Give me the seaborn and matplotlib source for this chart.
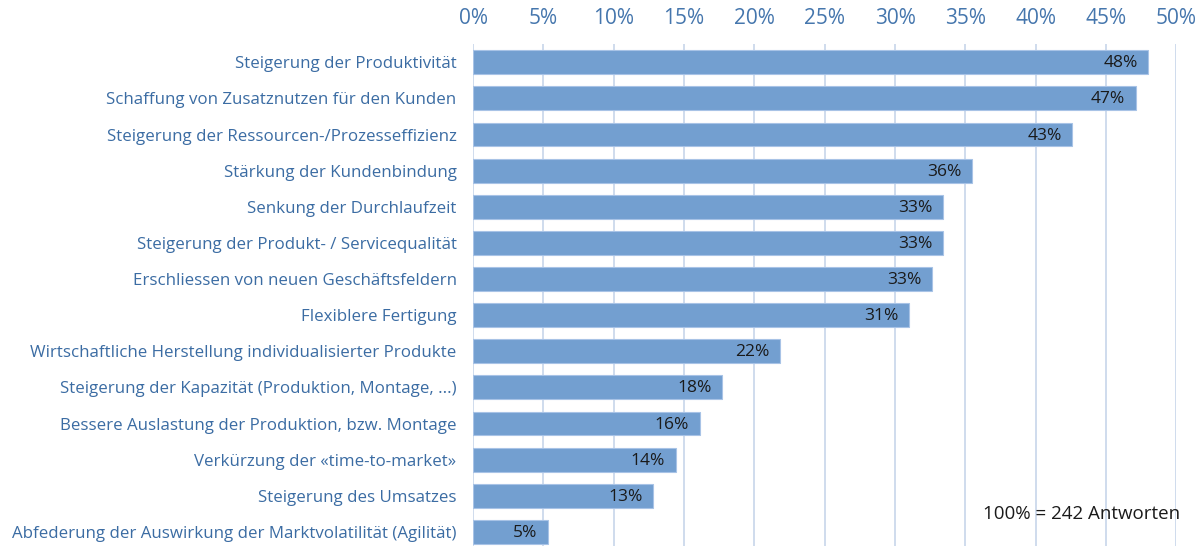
import matplotlib.pyplot as plt
import pandas as pd
import seaborn as sns

# survey answers, share of respondents in %
categories = [
    "Steigerung der Produktivität",
    "Schaffung von Zusatznutzen für den Kunden",
    "Steigerung der Ressourcen-/Prozesseffizienz",
    "Stärkung der Kundenbindung",
    "Senkung der Durchlaufzeit",
    "Steigerung der Produkt- / Servicequalität",
    "Erschliessen von neuen Geschäftsfeldern",
    "Flexiblere Fertigung",
    "Wirtschaftliche Herstellung individualisierter Produkte",
    "Steigerung der Kapazität (Produktion, Montage, ...)",
    "Bessere Auslastung der Produktion, bzw. Montage",
    "Verkürzung der «time-to-market»",
    "Steigerung des Umsatzes",
    "Abfederung der Auswirkung der Marktvolatilität (Agilität)",
]
values = [48.0, 47.1, 42.6, 35.5, 33.4, 33.4, 32.6, 31.0, 21.8, 17.7, 16.1, 14.4, 12.8, 5.3]
ticks = [0, 5, 10, 15, 20, 25, 30, 35, 40, 45, 50]
note = "100% = 242 Antworten"

BAR = "#739fd0"
BLUE = "#3b6ca3"
GRID = "#cbd9ec"

sns.set_style("white")
plt.rcParams["font.family"] = ["Open Sans", "DejaVu Sans"]

df = pd.DataFrame({"Kategorie": categories, "Anteil": values})

fig = plt.figure(figsize=(12.04, 5.46), dpi=100)
ax = fig.add_axes([0.393, 0.0, 0.584, 0.919])

sns.barplot(data=df, x="Anteil", y="Kategorie", orient="h", color=BAR,
            width=0.66, edgecolor="#a8c3e6", linewidth=0.8, saturation=1, ax=ax)

for p, v in zip(ax.patches, values):
    ax.text(p.get_width() - 0.75, p.get_y() + p.get_height() / 2 + 0.03, f"{v:.0f}%",
            ha="right", va="center", fontsize=12.5, color="#1a1a1a")

ax.set_xlim(0, 50)
ax.set_ylim(13.39, -0.5)
ax.set_xticks(ticks)
ax.set_xticklabels([f"{t}%" for t in ticks])
ax.xaxis.tick_top()
ax.tick_params(axis="x", length=0, pad=11, labelsize=15, labelcolor="#4576ad")
ax.tick_params(axis="y", length=0, pad=12, labelsize=12.2, labelcolor=BLUE)
ax.set_xlabel("")
ax.set_ylabel("")
ax.grid(axis="x", color=GRID, linewidth=1.3)
ax.set_axisbelow(True)
for s in ax.spines.values():
    s.set_visible(False)

ax.text(1.005, 0.063, note, transform=ax.transAxes, ha="right", va="center",
        fontsize=13.5, color="#1a1a1a")

fig.savefig("out.png", dpi=100)
